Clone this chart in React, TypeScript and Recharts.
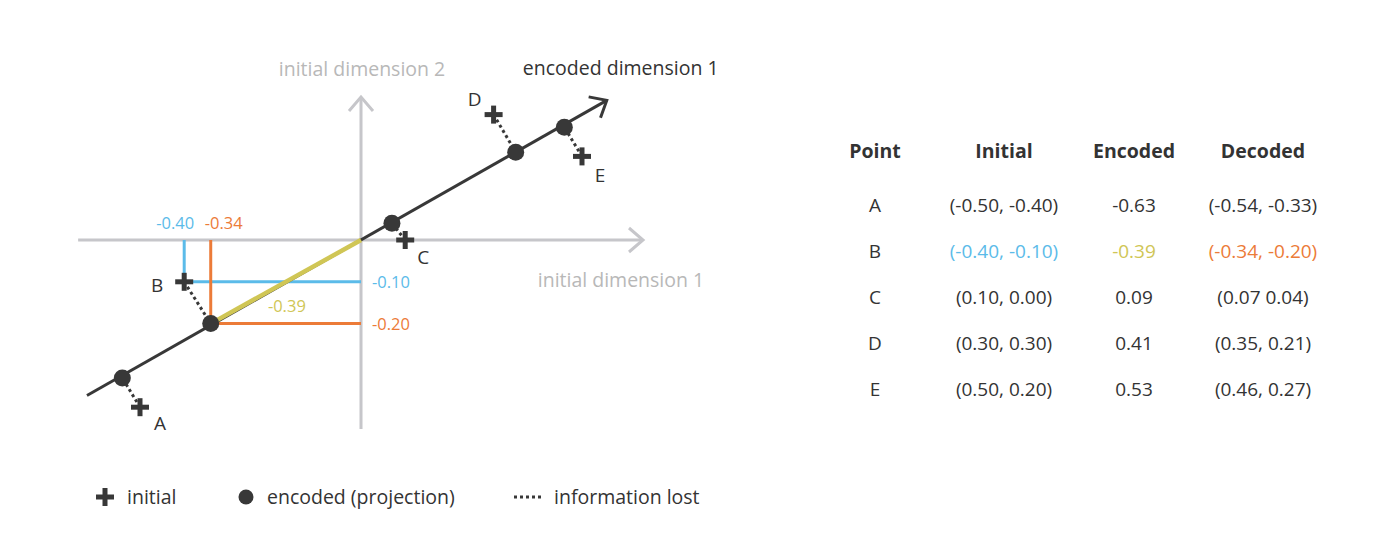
import React from "react";
import { ScatterChart, Scatter, XAxis, YAxis, ReferenceLine } from "recharts";

// point data (A..E)
const pointNames = ["A", "B", "C", "D", "E"];
const initialX = [-0.5, -0.4, 0.1, 0.3, 0.5];
const initialY = [-0.4, -0.1, 0.0, 0.3, 0.2];
const encodedValues = [-0.63, -0.39, 0.09, 0.41, 0.53];
const decodedX = [-0.54, -0.34, 0.07, 0.35, 0.46];
const decodedY = [-0.33, -0.2, 0.04, 0.21, 0.27];
const decodedLabels = ["(-0.54, -0.33)", "(-0.34, -0.20)", "(0.07 0.04)", "(0.35, 0.21)", "(0.46, 0.27)"];
const tableHeaders = ["Point", "Initial", "Encoded", "Decoded"];
const legendLabels = ["initial", "encoded (projection)", "information lost"];

// axes of the diagram, in data units
const dim1Range = [-0.64, 0.638];
const dim2Range = [-0.452, 0.342];
const encodedAxisStart = { x: -0.62, y: -0.372 };
const encodedAxisEnd = { x: 0.556, y: 0.334 };

const HL = 1; // point B carries the coloured guides

// layout
const W = 760;
const H = 541;
const ORIGIN = { x: 361, y: 240 };
const PX_X = 442;
const PX_Y = 418;
const X_DOMAIN = [-ORIGIN.x / PX_X, (W - ORIGIN.x) / PX_X];
const Y_DOMAIN = [-(H - ORIGIN.y) / PX_Y, ORIGIN.y / PX_Y];

const FONT = "'Open Sans', sans-serif";
const DARK = "#383838";
const TEXT = "#333333";
const AXIS = "#c6c6ca";
const AXIS_TEXT = "#b8b8b8";
const BLUE = "#5bbbe9";
const ORANGE = "#ec7b38";
const YELLOW = "#d0c655";

const labelOffset: Record<string, [number, number]> = {
  A: [20, 16],
  B: [-27, 3],
  C: [18, 17],
  D: [-19, -16],
  E: [18, 19],
};

const fmt = (v: number) => v.toFixed(2);

const initialPts = pointNames.map((name, i) => ({ name, x: initialX[i], y: initialY[i] }));
const decodedPts = pointNames.map((name, i) => ({ name, x: decodedX[i], y: decodedY[i] }));

const annotations = [
  { x: initialX[HL], y: 0, text: fmt(initialX[HL]), color: BLUE, dx: -9, dy: -18, anchor: "middle", size: 16.5 },
  { x: decodedX[HL], y: 0, text: fmt(decodedX[HL]), color: ORANGE, dx: 13, dy: -18, anchor: "middle", size: 16.5 },
  { x: 0, y: initialY[HL], text: fmt(initialY[HL]), color: BLUE, dx: 11, dy: 0, anchor: "start", size: 16.5 },
  { x: 0, y: decodedY[HL], text: fmt(decodedY[HL]), color: ORANGE, dx: 11, dy: 0, anchor: "start", size: 16.5 },
  { x: decodedX[HL] / 2, y: decodedY[HL] / 2, text: fmt(encodedValues[HL]), color: YELLOW, dx: 1, dy: 24, anchor: "middle", size: 16.5 },
  { x: 0, y: dim2Range[1], text: "initial dimension 2", color: AXIS_TEXT, dx: 1, dy: -29, anchor: "middle", size: 19.5 },
  { x: dim1Range[1], y: 0, text: "initial dimension 1", color: AXIS_TEXT, dx: -22, dy: 39, anchor: "middle", size: 19.5 },
  { x: encodedAxisEnd.x, y: encodedAxisEnd.y, text: "encoded dimension 1", color: TEXT, dx: 14, dy: -33, anchor: "middle", size: 19.5 },
];

const angleOf = (dx: number, dy: number) => (Math.atan2(-dy * PX_Y, dx * PX_X) * 180) / Math.PI;

const arrows = [
  { x: dim1Range[1], y: 0, angle: 0, color: AXIS },
  { x: 0, y: dim2Range[1], angle: -90, color: AXIS },
  {
    x: encodedAxisEnd.x,
    y: encodedAxisEnd.y,
    angle: angleOf(encodedAxisEnd.x - encodedAxisStart.x, encodedAxisEnd.y - encodedAxisStart.y),
    color: DARK,
  },
];

const PlusShape = (props: any) => {
  const { cx, cy, payload } = props;
  const off = labelOffset[payload.name];
  return (
    <g>
      <rect x={cx - 9} y={cy - 2.5} width={18} height={5} fill={DARK} />
      <rect x={cx - 2.5} y={cy - 9} width={5} height={18} fill={DARK} />
      <text
        x={cx + off[0]}
        y={cy + off[1]}
        textAnchor="middle"
        dominantBaseline="central"
        fontFamily={FONT}
        fontSize={19}
        fill={TEXT}
      >
        {payload.name}
      </text>
    </g>
  );
};

const DotShape = (props: any) => <circle cx={props.cx} cy={props.cy} r={8.5} fill={DARK} />;

const ArrowShape = (props: any) => {
  const { cx, cy, payload } = props;
  return (
    <polyline
      points="-14,-12 0,0 -14,12"
      transform={`translate(${cx},${cy}) rotate(${payload.angle})`}
      fill="none"
      stroke={payload.color}
      strokeWidth={3}
    />
  );
};

const TextShape = (props: any) => {
  const { cx, cy, payload } = props;
  return (
    <text
      x={cx + payload.dx}
      y={cy + payload.dy}
      textAnchor={payload.anchor}
      dominantBaseline="central"
      fontFamily={FONT}
      fontSize={payload.size}
      fill={payload.color}
    >
      {payload.text}
    </text>
  );
};

const colX = [875, 1004, 1134, 1263];
const headerY = 151;
const rowY = [205, 251, 297, 343, 389];

function Cell({ x, y, text, color = TEXT, bold = false }: any) {
  return (
    <div
      style={{
        position: "absolute",
        left: x - 100,
        top: y - 15,
        width: 200,
        height: 30,
        lineHeight: "30px",
        textAlign: "center",
        fontFamily: FONT,
        fontSize: bold ? 19.5 : 19,
        fontWeight: bold ? 700 : 400,
        color,
        whiteSpace: "nowrap",
      }}
    >
      {text}
    </div>
  );
}

function Table() {
  return (
    <>
      {tableHeaders.map((h, c) => (
        <Cell key={h} x={colX[c]} y={headerY} text={h} bold />
      ))}
      {pointNames.map((name, i) => (
        <React.Fragment key={name}>
          <Cell x={colX[0]} y={rowY[i]} text={name} />
          <Cell
            x={colX[1]}
            y={rowY[i]}
            text={`(${fmt(initialX[i])}, ${fmt(initialY[i])})`}
            color={i === HL ? BLUE : TEXT}
          />
          <Cell x={colX[2]} y={rowY[i]} text={fmt(encodedValues[i])} color={i === HL ? YELLOW : TEXT} />
          <Cell x={colX[3]} y={rowY[i]} text={decodedLabels[i]} color={i === HL ? ORANGE : TEXT} />
        </React.Fragment>
      ))}
    </>
  );
}

function Legend() {
  const y = 497;
  const txt = (left: number, s: string) => (
    <div
      style={{
        position: "absolute",
        left,
        top: y - 15,
        height: 30,
        lineHeight: "30px",
        fontFamily: FONT,
        fontSize: 19.5,
        color: TEXT,
        whiteSpace: "nowrap",
      }}
    >
      {s}
    </div>
  );
  return (
    <>
      <svg style={{ position: "absolute", left: 0, top: y - 20 }} width={560} height={40}>
        <rect x={105 - 9} y={20 - 2.5} width={18} height={5} fill={DARK} />
        <rect x={105 - 2.5} y={20 - 9} width={5} height={18} fill={DARK} />
        <circle cx={246} cy={20} r={7.5} fill={DARK} />
        <line x1={514} y1={20} x2={544} y2={20} stroke={DARK} strokeWidth={3} strokeDasharray="3 3" />
      </svg>
      {txt(127, legendLabels[0])}
      {txt(267, legendLabels[1])}
      {txt(554, legendLabels[2])}
    </>
  );
}

export default function App() {
  return (
    <div style={{ position: "absolute", left: 0, top: 0, width: 1400, height: 541, background: "#fff" }}>
      <ScatterChart width={W} height={H} margin={{ top: 0, right: 0, bottom: 0, left: 0 }}>
        <XAxis type="number" dataKey="x" domain={X_DOMAIN} allowDataOverflow hide />
        <YAxis type="number" dataKey="y" domain={Y_DOMAIN} allowDataOverflow hide />

        {/* initial axes */}
        <ReferenceLine
          segment={[{ x: dim1Range[0], y: 0 }, { x: dim1Range[1], y: 0 }]}
          stroke={AXIS}
          strokeWidth={3}
        />
        <ReferenceLine
          segment={[{ x: 0, y: dim2Range[0] }, { x: 0, y: dim2Range[1] }]}
          stroke={AXIS}
          strokeWidth={3}
        />

        {/* guides for point B */}
        <ReferenceLine
          segment={[{ x: initialX[HL], y: 0 }, { x: initialX[HL], y: initialY[HL] }]}
          stroke={BLUE}
          strokeWidth={3}
        />
        <ReferenceLine
          segment={[{ x: initialX[HL], y: initialY[HL] }, { x: 0, y: initialY[HL] }]}
          stroke={BLUE}
          strokeWidth={3}
        />
        <ReferenceLine
          segment={[{ x: decodedX[HL], y: 0 }, { x: decodedX[HL], y: decodedY[HL] }]}
          stroke={ORANGE}
          strokeWidth={3}
        />
        <ReferenceLine
          segment={[{ x: decodedX[HL], y: decodedY[HL] }, { x: 0, y: decodedY[HL] }]}
          stroke={ORANGE}
          strokeWidth={3}
        />

        {/* encoded dimension */}
        <ReferenceLine segment={[encodedAxisStart, encodedAxisEnd]} stroke={DARK} strokeWidth={3} />
        <ReferenceLine
          segment={[{ x: 0, y: 0 }, { x: decodedX[HL], y: decodedY[HL] }]}
          stroke={YELLOW}
          strokeWidth={4.5}
        />

        {/* information lost */}
        {pointNames.map((n, i) => (
          <ReferenceLine
            key={`lost-${n}`}
            segment={[{ x: initialX[i], y: initialY[i] }, { x: decodedX[i], y: decodedY[i] }]}
            stroke={DARK}
            strokeWidth={3}
            strokeDasharray="3 3"
          />
        ))}

        <Scatter data={arrows} shape={ArrowShape} isAnimationActive={false} />
        <Scatter data={decodedPts} shape={DotShape} isAnimationActive={false} />
        <Scatter data={initialPts} shape={PlusShape} isAnimationActive={false} />
        <Scatter data={annotations} shape={TextShape} isAnimationActive={false} />
      </ScatterChart>
      <Table />
      <Legend />
    </div>
  );
}
